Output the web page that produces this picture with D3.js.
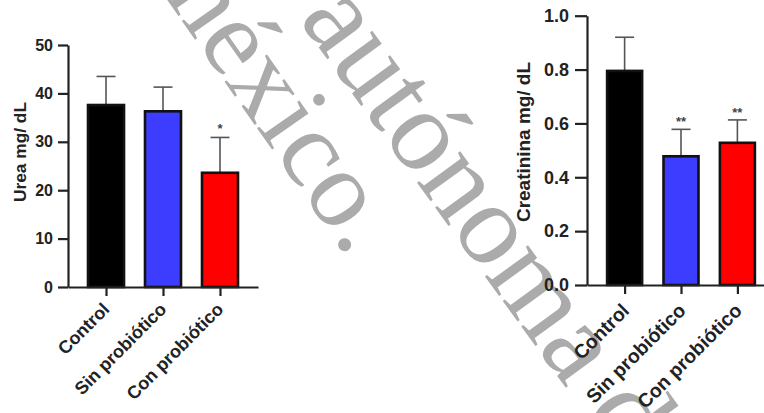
<!DOCTYPE html>
<html>
<head>
<meta charset="utf-8">
<script src="https://cdn.jsdelivr.net/npm/d3@7"></script>
<style>
  html, body { margin: 0; padding: 0; background: #fff; }
  svg { display: block; }
</style>
</head>
<body>
<svg id="vis"></svg>
<script>
// groups and values
var categories = ["Control", "Sin probiótico", "Con probiótico"];
var barColors = ["#000000", "#3d3dff", "#ff0000"];

var ureaMean = [37.6, 36.3, 23.6];
var ureaSD = [5.9, 5.0, 7.3];
var ureaSig = ["", "", "*"];
var ureaTicks = [0, 10, 20, 30, 40, 50];

var creatMean = [0.795, 0.478, 0.528];
var creatSD = [0.125, 0.1, 0.085];
var creatSig = ["", "**", "**"];
var creatTicks = [0, 0.2, 0.4, 0.6, 0.8, 1.0];

var watermark = ["autónoma del", "méxico."];

var width = 764, height = 413;
var svg = d3.select("#vis").attr("width", width).attr("height", height);

drawWatermark();

// left panel: urea
drawPanel({
    mean: ureaMean, sd: ureaSD, sig: ureaSig, ticks: ureaTicks,
    fmt: d3.format("d"),
    x0: 68, x1: 258, yTop: 45, yBottom: 287, max: 50,
    tickFont: 16, labelFont: 17, xFont: 18,
    label: "Urea mg/ dL", labelX: 20, labelY: 152, labelLen: 100,
    tickLen: 10, tickPad: 5, barW: 36, capW: 19,
    starGap: 12, xLabelDx: 0, xLabelDy: 19
});

// right panel: creatinina
drawPanel({
    mean: creatMean, sd: creatSD, sig: creatSig, ticks: creatTicks,
    fmt: d3.format(".1f"),
    x0: 587, x1: 775, yTop: 15.7, yBottom: 285, max: 1,
    tickFont: 18, labelFont: 19, xFont: 19.5,
    label: "Creatinina mg/ dL", labelX: 523, labelY: 142, labelLen: 160,
    tickLen: 12, tickPad: 6, barW: 35, capW: 19,
    starGap: 10, xLabelDx: 1, xLabelDy: 22
});

function drawWatermark() {
    var g = svg.append("g")
        .attr("fill", "#ababab")
        .style("font-family", "'Liberation Serif', 'Times New Roman', serif");
    // baseline start, angle and size of each line
    var lines = [
        { x: 298, y: 19, angle: 54, size: 116 },
        { x: 147, y: -29, angle: 55, size: 110 }
    ];
    g.selectAll("text")
        .data(watermark)
        .enter().append("text")
        .attr("transform", function(d, i) {
            return "translate(" + lines[i].x + "," + lines[i].y + ") rotate(" + lines[i].angle + ")";
        })
        .style("font-size", function(d, i) { return lines[i].size + "px"; })
        .text(function(d) { return d; });
}

function drawPanel(o) {
    var x = d3.scalePoint().domain(categories).range([o.x0, o.x1]).padding(0.667);
    var y = d3.scaleLinear().domain([0, o.max]).range([o.yBottom, o.yTop]);
    var rows = categories.map(function(c, i) {
        return { cat: c, mean: o.mean[i], sd: o.sd[i], sig: o.sig[i], color: barColors[i] };
    });

    var g = svg.append("g");

    // error bars (upper only)
    var err = g.append("g").attr("stroke", "#555").attr("stroke-width", 1.6);
    err.selectAll("line.v")
        .data(rows)
        .enter().append("line")
        .attr("class", "v")
        .attr("x1", function(d) { return x(d.cat); })
        .attr("x2", function(d) { return x(d.cat); })
        .attr("y1", function(d) { return y(d.mean); })
        .attr("y2", function(d) { return y(d.mean + d.sd); });
    err.selectAll("line.cap")
        .data(rows)
        .enter().append("line")
        .attr("class", "cap")
        .attr("x1", function(d) { return x(d.cat) - o.capW / 2; })
        .attr("x2", function(d) { return x(d.cat) + o.capW / 2; })
        .attr("y1", function(d) { return y(d.mean + d.sd); })
        .attr("y2", function(d) { return y(d.mean + d.sd); });

    // bars
    g.selectAll("rect")
        .data(rows)
        .enter().append("rect")
        .attr("x", function(d) { return x(d.cat) - o.barW / 2; })
        .attr("width", o.barW)
        .attr("y", function(d) { return y(d.mean); })
        .attr("height", function(d) { return y(0) - y(d.mean); })
        .attr("fill", function(d) { return d.color; })
        .attr("stroke", "#111")
        .attr("stroke-width", 2.6);

    // significance marks
    g.selectAll("text.sig")
        .data(rows)
        .enter().append("text")
        .attr("class", "sig")
        .attr("x", function(d) { return x(d.cat); })
        .attr("y", function(d) { return y(d.mean + d.sd) - o.starGap; })
        .attr("text-anchor", "middle")
        .attr("dy", "0.55em")
        .attr("fill", "#444")
        .style("font-family", "'Liberation Sans', Arial, sans-serif")
        .style("font-weight", "bold")
        .style("font-size", "13px")
        .text(function(d) { return d.sig; });

    // y axis
    var yAxis = g.append("g")
        .attr("transform", "translate(" + o.x0 + ",0)")
        .call(d3.axisLeft(y).tickValues(o.ticks).tickFormat(o.fmt)
            .tickSize(o.tickLen).tickSizeOuter(0).tickPadding(o.tickPad));
    styleAxis(yAxis, o.tickFont);

    // x axis
    var xAxis = g.append("g")
        .attr("transform", "translate(0," + o.yBottom + ")")
        .call(d3.axisBottom(x).tickFormat("").tickSize(9).tickSizeOuter(0));
    styleAxis(xAxis, o.xFont);

    g.selectAll("text.xlab")
        .data(rows)
        .enter().append("text")
        .attr("class", "xlab")
        .attr("transform", function(d) {
            return "translate(" + (x(d.cat) + o.xLabelDx) + "," + (o.yBottom + o.xLabelDy) + ") rotate(-45)";
        })
        .attr("text-anchor", "end")
        .attr("dy", "0.35em")
        .attr("fill", "#222")
        .style("font-family", "'Liberation Sans', Arial, sans-serif")
        .style("font-weight", "bold")
        .style("font-size", o.xFont + "px")
        .text(function(d) { return d.cat; });

    // y label
    g.append("text")
        .attr("transform", "translate(" + o.labelX + "," + o.labelY + ") rotate(-90)")
        .attr("text-anchor", "middle")
        .attr("dy", "0.35em")
        .attr("fill", "#222")
        .attr("textLength", o.labelLen)
        .attr("lengthAdjust", "spacingAndGlyphs")
        .style("font-family", "'Liberation Sans', Arial, sans-serif")
        .style("font-weight", "bold")
        .style("font-size", o.labelFont + "px")
        .text(o.label);
}

function styleAxis(ax, size) {
    ax.select(".domain").attr("stroke", "#222").attr("stroke-width", 2.2);
    ax.selectAll(".tick line").attr("stroke", "#222").attr("stroke-width", 2.2);
    ax.selectAll(".tick text")
        .attr("fill", "#222")
        .style("font-family", "'Liberation Sans', Arial, sans-serif")
        .style("font-weight", "bold")
        .style("font-size", size + "px");
}
</script>
</body>
</html>
